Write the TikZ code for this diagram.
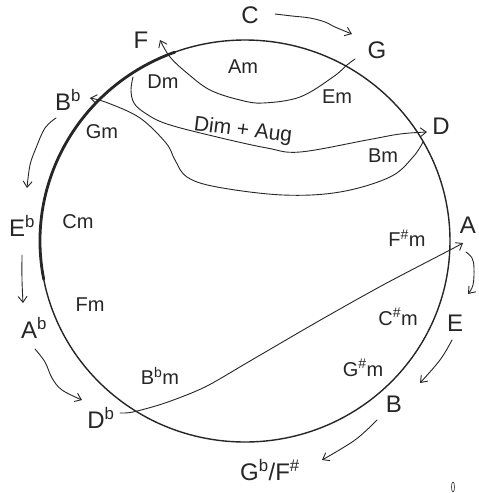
\documentclass[tikz,border=0pt]{standalone}
\usepackage{fontspec}
\setmainfont{Liberation Sans}
\usetikzlibrary{arrows.meta}
\begin{document}
\begin{tikzpicture}[x=1pt,y=-1pt,
  ink/.style={draw=black!85, line width=0.9pt, line cap=round, line join=round},
  tipv/.style={-{Straight Barb[length=6pt,width=9pt]}},
  note/.style={font=\fontsize{24}{26}\selectfont, inner sep=0pt, text=black!85},
  chord/.style={font=\fontsize{20}{22}\selectfont, inner sep=0pt, text=black!85}]
\useasboundingbox (0,0) rectangle (479,493);
\fill[white] (0,0) rectangle (479,493);
\coordinate (O) at (245,241);
\draw[ink, line width=1.4pt] (O) ellipse [x radius=205, y radius=201];
\draw[ink, line width=2.8pt] (O) ++(-110:205 and 201) arc [start angle=-110, end angle=-191, x radius=205, y radius=201];

% outer notes
\node[note] (C) at (250,15) {C};
\node[note] (G) at (377,50) {G};
\node[note] (F) at (141,40) {F};
\node[note] (D) at (441,126) {D};
\node[note] (A) at (468,225) {A};
\node[note] (E) at (455,323) {E};
\node[note] (B) at (394,404) {B};
\node[note] (Gb) at (270,470) {G\textsuperscript{b}/F\textsuperscript{\#}};
\node[note] (Db) at (101,418) {D\textsuperscript{b}};
\node[note] (Ab) at (34,328) {A\textsuperscript{b}};
\node[note] (Eb) at (22,226) {E\textsuperscript{b}};
\node[note] (Bb) at (68,100) {B\textsuperscript{b}};

% chords
\node[chord] (Am) at (243,67) {Am};
\node[chord] (Dm) at (163,82) {Dm};
\node[chord] (Em) at (337,97) {Em};
\node[chord, rotate=-7, font=\fontsize{21}{23}\selectfont] (DA) at (243,131) {Dim + Aug};
\node[chord] (Bm) at (383,156) {Bm};
\node[chord] (Gm) at (102,132) {Gm};
\node[chord] (Cm) at (78,222) {Cm};
\node[chord] (Fm) at (90,305) {Fm};
\node[chord] (Bbm) at (160,376) {B\textsuperscript{b}m};
\node[chord] (Fsm) at (407,238) {F\textsuperscript{\#}m};
\node[chord] (Csm) at (398,317) {C\textsuperscript{\#}m};
\node[chord] (Gsm) at (363,368) {G\textsuperscript{\#}m};

% inner boundary curves
\coordinate (amS) at (355,59);
\coordinate (amT) at (160,40);
\draw[ink, tipv] plot[smooth, tension=0.6] coordinates {(amS) (347,65) (333,77) (300,97) (263,103) (240,100) (210,90) (187,73) (170,57) (amT)};

\coordinate (daS) at (133,77);
\coordinate (daT) at (427,132);
\draw[ink, tipv] plot[smooth, tension=0.6] coordinates {(daS) (131,90) (134,103) (145,113) (167,124) (217,137) (267,148) (300,152) (367,140) (400,134) (daT)};

\coordinate (bbS) at (423,142);
\coordinate (bbT) at (90,98);
\draw[ink, tipv] plot[smooth, tension=0.6] coordinates {(bbS) (413,157) (390,177) (340,192) (283,195) (217,187) (187,177) (175,160) (166,143) (140,118) (108,103) (bbT)};

\coordinate (adS) at (120,413);
\coordinate (adT) at (463,243);
\draw[ink, tipv] plot[smooth, tension=0.5] coordinates {(adS) (133,412) (165,403) (205,387) (250,361) (317,322) (383,285) (450,250) (adT)};

% outer arrows
\draw[ink, tipv] plot[smooth, tension=0.6] coordinates {(275,14) (292,16) (310,18) (325,22) (335,27) (352,34)};
\draw[ink, tipv] plot[smooth, tension=0.6] coordinates {(56,118) (45,128) (36,148) (30,165) (27,188)};
\draw[ink, tipv] plot[smooth, tension=0.6] coordinates {(22,255) (22,280) (23,303)};
\draw[ink, tipv] plot[smooth, tension=0.6] coordinates {(35,349) (45,362) (52,378) (62,390) (82,400)};
\draw[ink, tipv] plot[smooth, tension=0.6] coordinates {(466,252) (472,258) (474,268) (473,285) (468,294)};
\draw[ink, tipv] plot[smooth, tension=0.6] coordinates {(452,340) (440,360) (420,383)};
\draw[ink, tipv] plot[smooth, tension=0.6] coordinates {(377,420) (355,440) (322,460)};

% small scan mark
\draw[ink, line width=0.6pt] (453,487) ellipse [x radius=1.5, y radius=5];
\end{tikzpicture}
\end{document}
